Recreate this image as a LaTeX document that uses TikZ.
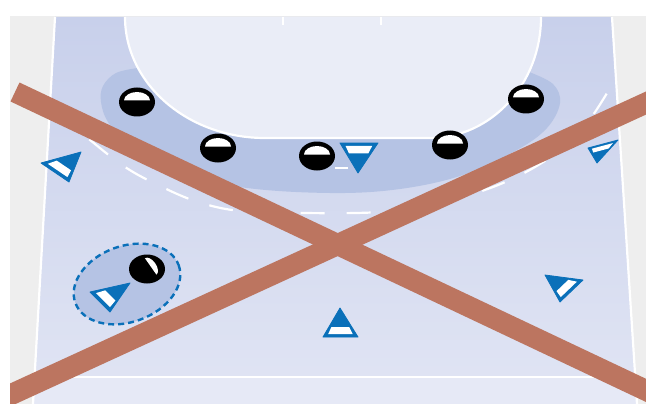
\documentclass[tikz,border=0pt]{standalone}
\usetikzlibrary{calc}
\definecolor{bggray}{HTML}{EEEEEE}
\definecolor{courthigh}{HTML}{C8D0EB}
\definecolor{courtlow}{HTML}{E1E5F4}
\definecolor{lowzone}{HTML}{E6E9F6}
\definecolor{sixm}{HTML}{EAEDF7}
\definecolor{bandc}{HTML}{B5C3E4}
\definecolor{crossc}{HTML}{BC7560}
\definecolor{attblue}{HTML}{0A70B9}
\tikzset{
  whiteline/.style={white,line width=2.2pt},
  crossline/.style={crossc,line width=21pt},
}
\newcommand\drawplayer[3]{%
  \begin{scope}[shift={(#1,#2)}]
    \fill[black] (0,0) ellipse[x radius=18pt,y radius=14.5pt];
    \begin{scope}[rotate=#3]
      \fill[white] (-13,-1.5) arc[start angle=180,end angle=360,x radius=13pt,y radius=8.5pt] -- cycle;
    \end{scope}
  \end{scope}}
\newcommand\drawattacker[3]{%
  \fill[attblue,draw=attblue,line width=0.8pt,line join=round] (#1) -- (#2) -- (#3) -- cycle;
  \coordinate (tG) at ($0.3333*(#1)+0.3333*(#2)+0.3333*(#3)$);
  \coordinate (tB) at ($(tG)!0.7!(#2)$);
  \coordinate (tC) at ($(tG)!0.7!(#3)$);
  \fill[white] (tB) -- (tC) -- ($(tC)!0.27!(#1)$) -- ($(tB)!0.27!(#1)$) -- cycle;}
\begin{document}
\begin{tikzpicture}[x=1pt,y=1pt,yscale=-1]
\useasboundingbox (0,0) rectangle (646,404);
\clip (0,0) rectangle (646,404);
\fill[white] (0,0) rectangle (646,404);
\fill[bggray] (10,16) rectangle (646,404);
% court
\coordinate (cTL) at (55,17);
\coordinate (cTR) at (612,17);
\coordinate (cBR) at (637,404);
\coordinate (cBL) at (33,404);
\shade[top color=courthigh,bottom color=courtlow] (cTL) -- (cTR) -- (cBR) -- (cBL) -- cycle;
\fill[lowzone] (34.5,377) -- (635.3,377) -- (cBR) -- (cBL) -- cycle;
% defence band
\fill[bandc] plot[smooth,tension=0.6] coordinates {(138,68) (116,73) (103,86) (101,102) (108,122) (128,145) (165,168) (240,187) (330,193) (400,189) (463,175) (517,150) (547,128) (560,103) (553,84) (529,72)} -- (430,40) -- (265,40) -- cycle;
% goal area
\fill[sixm] (125,17) arc[start angle=180,end angle=90,x radius=140pt,y radius=121pt] -- (430,138) arc[start angle=90,end angle=0,x radius=111pt,y radius=121pt] -- cycle;
\draw[whiteline] (125,17) arc[start angle=180,end angle=90,x radius=140pt,y radius=121pt] -- (430,138) arc[start angle=90,end angle=0,x radius=111pt,y radius=121pt];
\draw[white,line width=2pt] (283,17) -- (283,25);
\draw[white,line width=2pt] (381,17) -- (381,25);
% free-throw line
\begin{scope}
  \clip (cTL) -- (cTR) -- (cBR) -- (cBL) -- cycle;
  \draw[white,line width=2.2pt,dash pattern=on 24pt off 22pt] plot[smooth,tension=0.6] coordinates {(54,110) (90,140) (125,167) (160,186) (198,202) (240,211) (300,213) (380,212) (440,203) (493,187) (535,167) (570,142) (593,115) (616,78)};
\end{scope}
% side and end lines
\draw[whiteline] (cTL) -- (cBL);
\draw[whiteline] (cTR) -- (cBR);
\draw[whiteline] (34.5,377) -- (635.3,377);
\draw[white,line width=1.5pt] (335,168) -- (348,168);
% defenders
\drawplayer{137}{102}{0}
\drawplayer{218}{148}{0}
\drawplayer{317}{156}{0}
\drawplayer{450}{145}{0}
\drawplayer{526}{99}{0}
% attackers
\drawattacker{340,308}{323,337}{358,337}
\drawattacker{358,173}{378,143}{340,143}
\drawattacker{81,152}{41,163}{69,182}
\drawattacker{597,163}{588,148}{618,140}
\drawattacker{545,275}{583,280}{560,302}
% marked pair
\begin{scope}[shift={(127,284)},rotate=-20]
  \fill[bandc] (0,0) ellipse[x radius=55pt,y radius=38pt];
  \draw[attblue,line width=2.4pt,dash pattern=on 6pt off 4pt] (0,0) ellipse[x radius=55pt,y radius=38pt];
\end{scope}
\begin{scope}[shift={(147,269)}]
  \fill[black] (0,0) ellipse[x radius=18pt,y radius=14.5pt];
  \begin{scope}[rotate=55]
    \fill[white] (-10,-4.5) arc[start angle=180,end angle=360,x radius=10pt,y radius=5.5pt] -- cycle;
  \end{scope}
\end{scope}
\drawattacker{130,283}{90,292}{110,312}
% cross
\draw[crossline] (15,92) -- (660,397);
\begin{scope}
  \clip (10,0) rectangle (646,404);
  \draw[crossline] (0,399.6) -- (660,96.6);
\end{scope}
\end{tikzpicture}
\end{document}
